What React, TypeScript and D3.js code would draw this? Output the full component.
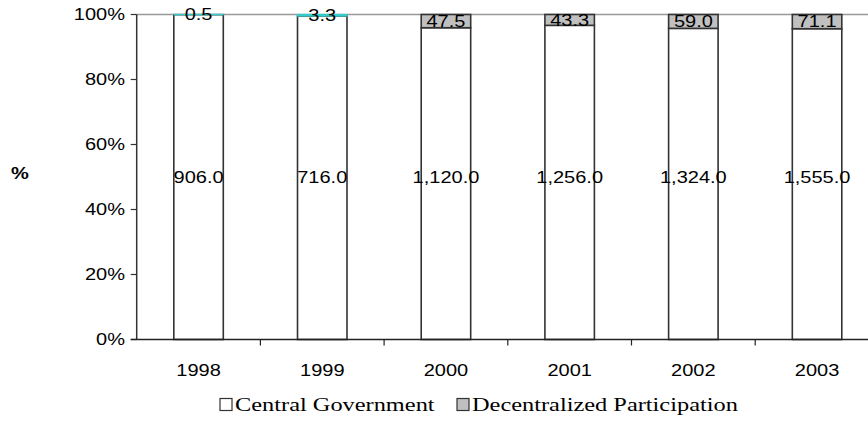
import React from "react";
import * as d3 from "d3";

// Budget split by year (values in millions)
const years = ["1998", "1999", "2000", "2001", "2002", "2003"];
const centralGovernment = [906.0, 716.0, 1120.0, 1256.0, 1324.0, 1555.0];
const decentralized = [0.5, 3.3, 47.5, 43.3, 59.0, 71.1];
const decentralizedColors = ["#33cccc", "#33cccc", "#c0c0c0", "#c0c0c0", "#c0c0c0", "#c0c0c0"];
const yTicks = [0, 0.2, 0.4, 0.6, 0.8, 1.0];
const seriesNames = ["Central Government", "Decentralized Participation"];

const W = 868;
const H = 421;
const left = 136.7;
const step = 123.7;
const top = 14.5;
const bottom = 339.5;
const STRETCH = 1.25;
const SANS = "'Liberation Sans', Arial, sans-serif";
const SERIF = "'Liberation Serif', 'Times New Roman', serif";

function T(props: {
  x: number;
  y: number;
  children: React.ReactNode;
  anchor?: string;
  size?: number;
  family?: string;
  weight?: string;
}) {
  const { x, y, children, anchor = "middle", size = 16, family = SANS, weight = "normal" } = props;
  return (
    <text
      transform={`translate(${x},${y}) scale(${STRETCH},1)`}
      textAnchor={anchor}
      fontSize={size}
      fontFamily={family}
      fontWeight={weight}
      fill="#000"
    >
      {children}
    </text>
  );
}

export default function App() {
  const x = d3
    .scaleBand<string>()
    .domain(years)
    .range([left, left + step * years.length])
    .paddingInner(0.6)
    .paddingOuter(0.3);
  const y = d3.scaleLinear().domain([0, 1]).range([bottom, top]);
  const fmt = d3.format(",.1f");
  const bw = x.bandwidth();
  const pct = d3.format(".0%");

  const rows = years.map((yr, i) => {
    const total = centralGovernment[i] + decentralized[i];
    const c = centralGovernment[i] / total;
    return { yr, i, c, total };
  });

  return (
    <svg width={W} height={H} style={{ position: "absolute", left: 0, top: 0, background: "#fff" }}>
      {/* 100% reference line */}
      <line x1={left} x2={W} y1={y(1)} y2={y(1)} stroke="#999" strokeWidth={1.5} />

      {/* stacked bars */}
      {rows.map(({ yr, i, c }) => {
        const bx = x(yr)!;
        const grey = decentralizedColors[i] === "#c0c0c0";
        return (
          <g key={yr}>
            <rect x={bx} y={y(c)} width={bw} height={y(0) - y(c)} fill="#fff" stroke="#333" strokeWidth={1.6} />
            <rect
              x={bx}
              y={y(1)}
              width={bw}
              height={y(c) - y(1)}
              fill={decentralizedColors[i]}
              stroke={grey ? "#333" : decentralizedColors[i]}
              strokeWidth={grey ? 1.6 : 1.2}
            />
          </g>
        );
      })}

      {/* value labels */}
      {rows.map(({ yr, i, c }) => {
        const cx = x(yr)! + bw / 2;
        return (
          <g key={"l" + yr}>
            <T x={cx} y={y(0.5) + 5.7}>{fmt(centralGovernment[i])}</T>
            <T x={cx} y={(y(c) + y(1)) / 2 + 5.7}>{fmt(decentralized[i])}</T>
          </g>
        );
      })}

      {/* y axis */}
      <line x1={left} x2={left} y1={top} y2={bottom} stroke="#333" strokeWidth={1.5} />
      {yTicks.map((t) => (
        <g key={t}>
          <line x1={left - 6} x2={left} y1={y(t)} y2={y(t)} stroke="#333" strokeWidth={1.2} />
          <T x={125} y={y(t) + 5.8} anchor="end">{pct(t)}</T>
        </g>
      ))}
      <T x={20} y={179} weight="bold">%</T>

      {/* x axis */}
      <line x1={left - 6} x2={W} y1={bottom} y2={bottom} stroke="#222" strokeWidth={1.5} />
      {years.map((yr, i) => (
        <line
          key={"t" + yr}
          x1={left + step * (i + 1)}
          x2={left + step * (i + 1)}
          y1={bottom}
          y2={bottom + 6}
          stroke="#222"
          strokeWidth={1.2}
        />
      ))}
      {years.map((yr) => (
        <T key={"c" + yr} x={x(yr)! + bw / 2} y={376}>{yr}</T>
      ))}

      {/* legend */}
      <rect x={220} y={398.5} width={12} height={12} fill="#fff" stroke="#333" strokeWidth={1.2} />
      <T x={235} y={411} anchor="start" size={19.5} family={SERIF}>{seriesNames[0]}</T>
      <rect x={457} y={398.5} width={12} height={12} fill="#c0c0c0" stroke="#333" strokeWidth={1.2} />
      <T x={472} y={411} anchor="start" size={19.5} family={SERIF}>{seriesNames[1]}</T>
    </svg>
  );
}
